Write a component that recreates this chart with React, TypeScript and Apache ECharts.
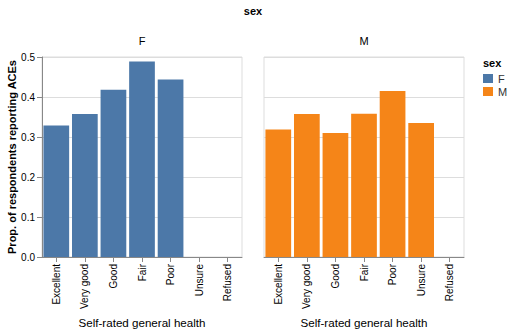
import React, { useEffect, useRef } from "react";
import * as echarts from "echarts";

const categories = ["Excellent", "Very good", "Good", "Fair", "Poor", "Unsure", "Refused"];
const femaleValues = [0.329, 0.3575, 0.418, 0.489, 0.444, 0, 0];
const maleValues = [0.319, 0.3575, 0.31, 0.358, 0.415, 0.335, 0];
const yTicks = [0, 0.1, 0.2, 0.3, 0.4, 0.5];
const facetNames = ["F", "M"];
const colors = ["#4c78a8", "#f58518"];

const FONT = "Arial";

export default function App() {
  const ref = useRef<HTMLDivElement>(null);
  useEffect(() => {
    if (!ref.current) return;
    const chart = echarts.init(ref.current, undefined, { renderer: "svg" });
    const gridW = 200;
    const gridH = 200;
    const lefts = [42, 264];
    const top = 57;
    const xAxisCommon = (i: number) => ({
      type: "category",
      gridIndex: i,
      data: categories,
      name: "Self-rated general health",
      nameLocation: "middle",
      nameGap: 58,
      nameTextStyle: { fontFamily: FONT, fontSize: 11.6, color: "#000" },
      axisLine: { show: true, lineStyle: { color: "#888", width: 1 } },
      axisTick: { show: true, alignWithLabel: true, length: 5, lineStyle: { color: "#888" } },
      axisLabel: { rotate: 90, fontFamily: FONT, fontSize: 10, color: "#000", margin: 7, interval: 0 },
      splitLine: { show: false },
    });
    const option: any = {
      animation: false,
      textStyle: { fontFamily: FONT },
      grid: lefts.map((l) => ({
        left: l,
        top,
        width: gridW,
        height: gridH,
        show: true,
        borderColor: "#ddd",
        borderWidth: 1,
        containLabel: false,
        outerBoundsMode: "none",
      })),
      xAxis: [xAxisCommon(0), xAxisCommon(1)],
      yAxis: [
        {
          type: "value",
          gridIndex: 0,
          min: yTicks[0],
          max: yTicks[yTicks.length - 1],
          interval: 0.1,
          name: "Prop. of respondents reporting ACEs",
          nameLocation: "middle",
          nameGap: 24,
          nameTextStyle: { fontFamily: FONT, fontSize: 11, fontWeight: "bold", color: "#000" },
          axisLine: { show: true, lineStyle: { color: "#888" } },
          axisTick: { show: true, length: 5, lineStyle: { color: "#888" } },
          axisLabel: { fontFamily: FONT, fontSize: 10, color: "#000", margin: 7, formatter: (v: number) => v.toFixed(1) },
          splitLine: { show: true, lineStyle: { color: "#ddd" } },
        },
        {
          type: "value",
          gridIndex: 1,
          min: yTicks[0],
          max: yTicks[yTicks.length - 1],
          interval: 0.1,
          axisLine: { show: false },
          axisTick: { show: false },
          axisLabel: { show: false },
          splitLine: { show: true, lineStyle: { color: "#ddd" } },
        },
      ],
      legend: {
        data: facetNames,
        orient: "vertical",
        left: 483,
        top: 73,
        itemWidth: 10,
        itemHeight: 9,
        itemGap: 2,
        icon: "rect",
        textStyle: { fontFamily: FONT, fontSize: 11, color: "#333" },
        padding: 0,
      },
      series: [
        {
          name: facetNames[0],
          type: "bar",
          xAxisIndex: 0,
          yAxisIndex: 0,
          data: femaleValues,
          barCategoryGap: "10%",
          itemStyle: { color: colors[0] },
        },
        {
          name: facetNames[1],
          type: "bar",
          xAxisIndex: 1,
          yAxisIndex: 1,
          data: maleValues,
          barCategoryGap: "10%",
          itemStyle: { color: colors[1] },
        },
      ],
      graphic: [
        {
          type: "text",
          x: 253,
          y: 11,
          style: { text: "sex", fontFamily: FONT, fontSize: 11, fontWeight: "bold", fill: "#000", textAlign: "center", textVerticalAlign: "middle" },
        },
        {
          type: "text",
          x: 142,
          y: 41,
          style: { text: facetNames[0], fontFamily: FONT, fontSize: 11, fill: "#000", textAlign: "center", textVerticalAlign: "middle" },
        },
        {
          type: "text",
          x: 364,
          y: 41,
          style: { text: facetNames[1], fontFamily: FONT, fontSize: 11, fill: "#000", textAlign: "center", textVerticalAlign: "middle" },
        },
        {
          type: "text",
          x: 483,
          y: 63,
          style: { text: "sex", fontFamily: FONT, fontSize: 11, fontWeight: "bold", fill: "#000", textAlign: "left", textVerticalAlign: "middle" },
        },
      ],
    };
    chart.setOption(option);
    return () => chart.dispose();
  }, []);
  return <div ref={ref} style={{ width: 513, height: 331, position: "absolute", left: 0, top: 0 }} />;
}
